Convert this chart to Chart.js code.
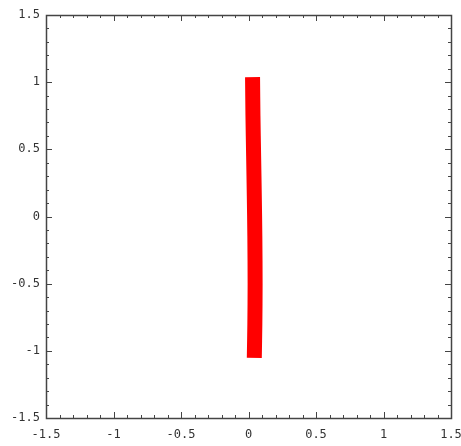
<!DOCTYPE html>
<html>
<head>
<meta charset="utf-8">
<script src="https://cdn.jsdelivr.net/npm/chart.js@4"></script>
<style>
  html, body { margin: 0; padding: 0; background: #ffffff; }
  #wrap { width: 461px; height: 446px; }
</style>
</head>
<body>
<div id="wrap"><canvas id="c" width="461" height="446"></canvas></div>
<script>
// Data
const bandX = [0.030, 0.033, 0.038, 0.043, 0.047, 0.049, 0.047, 0.043];
const bandY = [1.037, 0.75, 0.45, 0.15, -0.15, -0.5, -0.8, -1.052];
const axisMin = -1.5;
const axisMax = 1.5;
const majorTicks = [-1.5, -1, -0.5, 0, 0.5, 1, 1.5];
const tickLabels = ["-1.5", "-1", "-0.5", "0", "0.5", "1", "1.5"];
const minorStep = 0.1;

const points = bandX.map((x, i) => ({ x: x, y: bandY[i] }));

function labelFor(v) {
  for (let i = 0; i < majorTicks.length; i++) {
    if (Math.abs(v - majorTicks[i]) < 1e-6) return tickLabels[i];
  }
  return "";
}

const frameColor = "#444444";

const framePlugin = {
  id: "framePlugin",
  afterDatasetsDraw(chart) {
    const { ctx, chartArea: a, scales } = chart;
    const xs = scales.x, ys = scales.y;
    ctx.save();
    ctx.strokeStyle = frameColor;
    ctx.lineWidth = 1;
    ctx.beginPath();
    const n = Math.round((axisMax - axisMin) / minorStep);
    for (let i = 0; i <= n; i++) {
      const v = axisMin + i * minorStep;
      const major = labelFor(Math.round(v * 10) / 10) !== "";
      const len = major ? 6 : 3;
      const px = Math.round(xs.getPixelForValue(v)) + 0.5;
      ctx.moveTo(px, a.bottom); ctx.lineTo(px, a.bottom - len);
      ctx.moveTo(px, a.top); ctx.lineTo(px, a.top + len);
      const py = Math.round(ys.getPixelForValue(v)) + 0.5;
      ctx.moveTo(a.left, py); ctx.lineTo(a.left + len, py);
      ctx.moveTo(a.right, py); ctx.lineTo(a.right - len, py);
    }
    ctx.stroke();
    ctx.lineWidth = 1.5;
    ctx.strokeRect(Math.round(a.left) + 0.5, Math.round(a.top) + 0.5,
                   Math.round(a.right - a.left), Math.round(a.bottom - a.top));
    ctx.restore();
  }
};

const tickFont = { family: "'DejaVu Sans Mono', 'Liberation Mono', monospace", size: 12 };

new Chart(document.getElementById("c"), {
  type: "scatter",
  data: {
    datasets: [{
      data: points,
      showLine: true,
      borderColor: "#ff0000",
      backgroundColor: "#ff0000",
      borderWidth: 15,
      borderCapStyle: "butt",
      borderJoinStyle: "round",
      pointRadius: 0,
      tension: 0.3
    }]
  },
  options: {
    responsive: false,
    animation: false,
    devicePixelRatio: 1,
    layout: { padding: { top: 15, right: 0, left: 0, bottom: 0 } },
    plugins: { legend: { display: false }, tooltip: { enabled: false } },
    scales: {
      x: {
        type: "linear",
        min: axisMin, max: axisMax,
        grid: { display: false },
        border: { display: false },
        afterFit(s) { s.height = 28; s.paddingLeft = 0; s.paddingRight = 10; },
        ticks: {
          stepSize: minorStep,
          autoSkip: false,
          maxRotation: 0,
          padding: 2,
          color: "#333333",
          font: tickFont,
          callback: (v) => labelFor(Math.round(v * 10) / 10)
        }
      },
      y: {
        type: "linear",
        min: axisMin, max: axisMax,
        grid: { display: false },
        border: { display: false },
        afterFit(s) { s.width = 46; s.paddingTop = 0; s.paddingBottom = 0; },
        ticks: {
          stepSize: minorStep,
          autoSkip: false,
          padding: -2,
          color: "#333333",
          font: tickFont,
          callback: (v) => labelFor(Math.round(v * 10) / 10)
        }
      }
    }
  },
  plugins: [framePlugin]
});
</script>
</body>
</html>
